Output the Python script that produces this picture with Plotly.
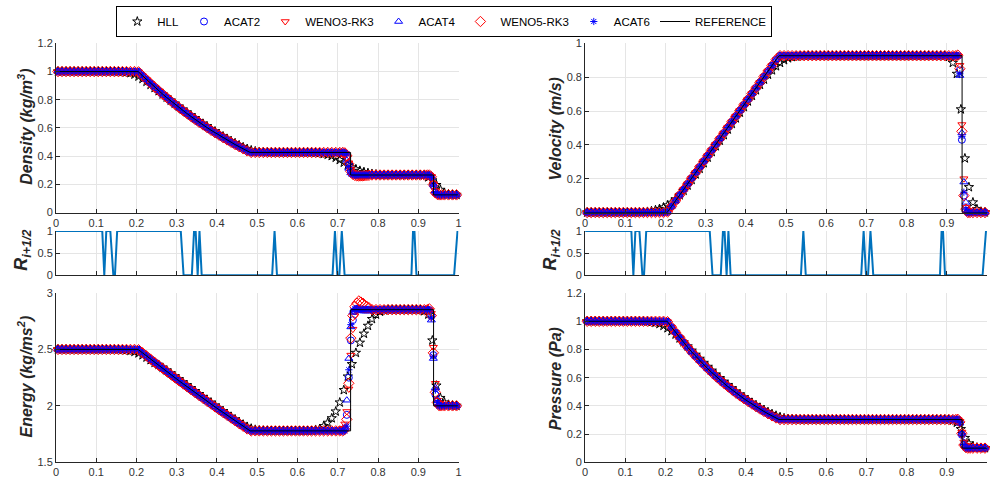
import plotly.graph_objects as go

# ---------------- data ----------------
X = [0.005, 0.015, 0.025, 0.035, 0.045, 0.055, 0.065, 0.075, 0.085, 0.095,
     0.105, 0.115, 0.125, 0.135, 0.145, 0.155, 0.165, 0.175, 0.185, 0.195,
     0.205, 0.215, 0.225, 0.235, 0.245, 0.255, 0.265, 0.275, 0.285, 0.295,
     0.305, 0.315, 0.325, 0.335, 0.345, 0.355, 0.365, 0.375, 0.385, 0.395,
     0.405, 0.415, 0.425, 0.435, 0.445, 0.455, 0.465, 0.475, 0.485, 0.495,
     0.505, 0.515, 0.525, 0.535, 0.545, 0.555, 0.565, 0.575, 0.585, 0.595,
     0.605, 0.615, 0.625, 0.635, 0.645, 0.655, 0.665, 0.675, 0.685, 0.695,
     0.705, 0.715, 0.725, 0.735, 0.745, 0.755, 0.765, 0.775, 0.785, 0.795,
     0.805, 0.815, 0.825, 0.835, 0.845, 0.855, 0.865, 0.875, 0.885, 0.895,
     0.905, 0.915, 0.925, 0.935, 0.945, 0.955, 0.965, 0.975, 0.985, 0.995]

# common profile of the high-order schemes (away from the discontinuities)
RHO_BASE = [1.0, 1.0, 1.0, 1.0, 1.0, 1.0, 1.0, 1.0, 1.0, 1.0,
            1.0, 1.0, 1.0, 1.0, 1.0, 1.0, 1.0, 1.0, 1.0, 1.0,
            0.998, 0.970, 0.943, 0.916, 0.890, 0.865, 0.840, 0.816, 0.792, 0.769,
            0.746, 0.724, 0.703, 0.682, 0.661, 0.641, 0.622, 0.603, 0.584, 0.566,
            0.549, 0.531, 0.515, 0.498, 0.482, 0.467, 0.452, 0.437, 0.426, 0.426,
            0.426, 0.426, 0.426, 0.426, 0.426, 0.426, 0.426, 0.426, 0.426, 0.426,
            0.426, 0.426, 0.426, 0.426, 0.426, 0.426, 0.426, 0.426, 0.426, 0.426,
            0.426, 0.426, 0.426, 0.266, 0.266, 0.266, 0.266, 0.266, 0.266, 0.266,
            0.266, 0.266, 0.266, 0.266, 0.266, 0.266, 0.266, 0.266, 0.266, 0.266,
            0.266, 0.266, 0.266, 0.266, 0.125, 0.125, 0.125, 0.125, 0.125, 0.125]
U_BASE = [0.0, 0.0, 0.0, 0.0, 0.0, 0.0, 0.0, 0.0, 0.0, 0.0,
          0.0, 0.0, 0.0, 0.0, 0.0, 0.0, 0.0, 0.0, 0.0, 0.0,
          0.003, 0.036, 0.069, 0.103, 0.136, 0.169, 0.203, 0.236, 0.269, 0.303,
          0.336, 0.369, 0.403, 0.436, 0.469, 0.503, 0.536, 0.569, 0.603, 0.636,
          0.669, 0.703, 0.736, 0.769, 0.803, 0.836, 0.869, 0.903, 0.927, 0.927,
          0.927, 0.927, 0.927, 0.927, 0.927, 0.927, 0.927, 0.927, 0.927, 0.927,
          0.927, 0.927, 0.927, 0.927, 0.927, 0.927, 0.927, 0.927, 0.927, 0.927,
          0.927, 0.927, 0.927, 0.927, 0.927, 0.927, 0.927, 0.927, 0.927, 0.927,
          0.927, 0.927, 0.927, 0.927, 0.927, 0.927, 0.927, 0.927, 0.927, 0.927,
          0.927, 0.927, 0.927, 0.927, 0.0, 0.0, 0.0, 0.0, 0.0, 0.0]
P_BASE = [1.0, 1.0, 1.0, 1.0, 1.0, 1.0, 1.0, 1.0, 1.0, 1.0,
          1.0, 1.0, 1.0, 1.0, 1.0, 1.0, 1.0, 1.0, 1.0, 1.0,
          0.997, 0.958, 0.921, 0.885, 0.850, 0.816, 0.783, 0.752, 0.722, 0.692,
          0.664, 0.637, 0.610, 0.585, 0.561, 0.537, 0.514, 0.492, 0.471, 0.451,
          0.432, 0.413, 0.395, 0.377, 0.360, 0.344, 0.329, 0.314, 0.303, 0.303,
          0.303, 0.303, 0.303, 0.303, 0.303, 0.303, 0.303, 0.303, 0.303, 0.303,
          0.303, 0.303, 0.303, 0.303, 0.303, 0.303, 0.303, 0.303, 0.303, 0.303,
          0.303, 0.303, 0.303, 0.303, 0.303, 0.303, 0.303, 0.303, 0.303, 0.303,
          0.303, 0.303, 0.303, 0.303, 0.303, 0.303, 0.303, 0.303, 0.303, 0.303,
          0.303, 0.303, 0.303, 0.303, 0.1, 0.1, 0.1, 0.1, 0.1, 0.1]
E_BASE = [2.5, 2.5, 2.5, 2.5, 2.5, 2.5, 2.5, 2.5, 2.5, 2.5,
          2.5, 2.5, 2.5, 2.5, 2.5, 2.5, 2.5, 2.5, 2.5, 2.5,
          2.498, 2.470, 2.442, 2.414, 2.386, 2.359, 2.332, 2.305, 2.278, 2.251,
          2.224, 2.198, 2.171, 2.145, 2.119, 2.093, 2.068, 2.042, 2.017, 1.991,
          1.966, 1.941, 1.917, 1.892, 1.868, 1.843, 1.819, 1.795, 1.778, 1.778,
          1.778, 1.778, 1.778, 1.778, 1.778, 1.778, 1.778, 1.778, 1.778, 1.778,
          1.778, 1.778, 1.778, 1.778, 1.778, 1.778, 1.778, 1.778, 1.778, 1.778,
          1.778, 1.778, 1.778, 2.853, 2.853, 2.853, 2.853, 2.853, 2.853, 2.853,
          2.853, 2.853, 2.853, 2.853, 2.853, 2.853, 2.853, 2.853, 2.853, 2.853,
          2.853, 2.853, 2.853, 2.853, 2.0, 2.0, 2.0, 2.0, 2.0, 2.0]

# HLL (more diffusive) full profiles
HLL_RHO = [1.0, 1.0, 1.0, 1.0, 1.0, 1.0, 1.0, 1.0, 1.0, 1.0,
           1.0, 1.0, 1.0, 1.0, 1.0, 0.999, 0.998, 0.995, 0.989, 0.979,
           0.965, 0.948, 0.928, 0.906, 0.884, 0.861, 0.838, 0.816, 0.794, 0.772,
           0.751, 0.730, 0.709, 0.689, 0.669, 0.649, 0.630, 0.611, 0.593, 0.575,
           0.557, 0.540, 0.523, 0.507, 0.492, 0.477, 0.463, 0.451, 0.441, 0.434,
           0.430, 0.428, 0.427, 0.426, 0.426, 0.426, 0.426, 0.426, 0.426, 0.426,
           0.426, 0.426, 0.426, 0.426, 0.424, 0.422, 0.416, 0.410, 0.401, 0.389,
           0.373, 0.354, 0.335, 0.320, 0.307, 0.296, 0.287, 0.280, 0.274, 0.270,
           0.267, 0.266, 0.266, 0.266, 0.266, 0.266, 0.266, 0.266, 0.266, 0.266,
           0.266, 0.264, 0.250, 0.228, 0.195, 0.161, 0.139, 0.129, 0.126, 0.125]
HLL_U = [0.0, 0.0, 0.0, 0.0, 0.0, 0.0, 0.0, 0.0, 0.0, 0.0,
         0.0, 0.0, 0.0, 0.001, 0.002, 0.004, 0.008, 0.014, 0.021, 0.030,
         0.042, 0.058, 0.078, 0.102, 0.129, 0.160, 0.193, 0.226, 0.259, 0.292,
         0.325, 0.358, 0.392, 0.425, 0.458, 0.491, 0.524, 0.557, 0.591, 0.624,
         0.657, 0.690, 0.723, 0.755, 0.786, 0.815, 0.841, 0.865, 0.885, 0.901,
         0.912, 0.919, 0.923, 0.925, 0.926, 0.927, 0.927, 0.927, 0.927, 0.927,
         0.927, 0.927, 0.927, 0.927, 0.927, 0.927, 0.927, 0.927, 0.927, 0.927,
         0.927, 0.927, 0.927, 0.927, 0.927, 0.927, 0.927, 0.927, 0.927, 0.927,
         0.927, 0.927, 0.927, 0.927, 0.927, 0.927, 0.927, 0.927, 0.927, 0.927,
         0.920, 0.885, 0.820, 0.610, 0.320, 0.150, 0.060, 0.020, 0.005, 0.001]
HLL_P = [1.0, 1.0, 1.0, 1.0, 1.0, 1.0, 1.0, 1.0, 1.0, 1.0,
         1.0, 1.0, 1.0, 1.0, 0.999, 0.998, 0.995, 0.990, 0.981, 0.968,
         0.951, 0.930, 0.906, 0.879, 0.851, 0.822, 0.792, 0.763, 0.734, 0.705,
         0.677, 0.650, 0.623, 0.597, 0.572, 0.548, 0.525, 0.502, 0.481, 0.460,
         0.441, 0.422, 0.404, 0.387, 0.371, 0.356, 0.342, 0.330, 0.320, 0.312,
         0.307, 0.305, 0.304, 0.303, 0.303, 0.303, 0.303, 0.303, 0.303, 0.303,
         0.303, 0.303, 0.303, 0.303, 0.303, 0.303, 0.303, 0.303, 0.303, 0.303,
         0.303, 0.303, 0.303, 0.303, 0.303, 0.303, 0.303, 0.303, 0.303, 0.303,
         0.303, 0.303, 0.303, 0.303, 0.303, 0.303, 0.303, 0.303, 0.303, 0.303,
         0.302, 0.296, 0.281, 0.235, 0.172, 0.133, 0.113, 0.104, 0.101, 0.100]
HLL_E = [2.5, 2.5, 2.5, 2.5, 2.5, 2.5, 2.5, 2.5, 2.5, 2.5,
         2.5, 2.5, 2.5, 2.5, 2.500, 2.499, 2.497, 2.494, 2.488, 2.479,
         2.466, 2.449, 2.429, 2.406, 2.382, 2.362, 2.338, 2.313, 2.288, 2.262,
         2.236, 2.209, 2.183, 2.157, 2.131, 2.105, 2.079, 2.054, 2.028, 2.003,
         1.977, 1.952, 1.928, 1.903, 1.879, 1.856, 1.834, 1.814, 1.798, 1.788,
         1.782, 1.780, 1.779, 1.778, 1.778, 1.778, 1.778, 1.778, 1.778, 1.778,
         1.778, 1.778, 1.778, 1.778, 1.787, 1.795, 1.820, 1.850, 1.890, 1.950,
         2.030, 2.140, 2.260, 2.370, 2.470, 2.560, 2.640, 2.710, 2.770, 2.810,
         2.835, 2.847, 2.853, 2.853, 2.853, 2.853, 2.853, 2.853, 2.853, 2.853,
         2.852, 2.840, 2.810, 2.580, 2.180, 2.070, 2.030, 2.010, 2.003, 2.000]

# finer sampled windows around the contact and the shock (high-order schemes)
CONTACT_X = [0.7125, 0.7175, 0.7225, 0.7275, 0.7325, 0.7375, 0.7425,
             0.7475, 0.7525, 0.7575, 0.7625, 0.7675, 0.7725, 0.7775]
SHOCK_X = [0.9225, 0.9275, 0.9325, 0.9375, 0.9425, 0.9475, 0.9525, 0.9575]

RHO_CONTACT = {
    "ACAT2":     [0.426, 0.421, 0.395, 0.337, 0.294, 0.275, 0.267, 0.265, 0.265, 0.266, 0.266, 0.266, 0.266, 0.266],
    "WENO3-RK3": [0.421, 0.412, 0.389, 0.353, 0.309, 0.283, 0.271, 0.266, 0.265, 0.265, 0.266, 0.266, 0.266, 0.266],
    "ACAT4":     [0.426, 0.421, 0.370, 0.313, 0.281, 0.268, 0.265, 0.265, 0.266, 0.266, 0.266, 0.266, 0.266, 0.266],
    "WENO5-RK3": [0.426, 0.423, 0.403, 0.345, 0.292, 0.271, 0.263, 0.260, 0.259, 0.260, 0.260, 0.262, 0.263, 0.264],
    "ACAT6":     [0.426, 0.426, 0.416, 0.327, 0.279, 0.267, 0.265, 0.266, 0.266, 0.266, 0.266, 0.266, 0.266, 0.266],
}
E_CONTACT = {
    "ACAT2":     [1.778, 1.80, 1.92, 2.25, 2.58, 2.76, 2.84, 2.86, 2.86, 2.855, 2.853, 2.853, 2.853, 2.853],
    "WENO3-RK3": [1.80, 1.84, 1.95, 2.15, 2.45, 2.68, 2.80, 2.85, 2.86, 2.86, 2.855, 2.853, 2.853, 2.853],
    "ACAT4":     [1.778, 1.80, 2.05, 2.42, 2.70, 2.83, 2.86, 2.86, 2.855, 2.853, 2.853, 2.853, 2.853, 2.853],
    "WENO5-RK3": [1.778, 1.79, 1.88, 2.20, 2.60, 2.80, 2.88, 2.91, 2.93, 2.92, 2.91, 2.89, 2.88, 2.87],
    "ACAT6":     [1.778, 1.778, 1.82, 2.32, 2.72, 2.84, 2.86, 2.855, 2.853, 2.853, 2.853, 2.853, 2.853, 2.853],
}
RHO_SHOCK = {
    "ACAT2":     [0.266, 0.266, 0.253, 0.190, 0.140, 0.127, 0.125, 0.125],
    "WENO3-RK3": [0.266, 0.266, 0.257, 0.204, 0.155, 0.130, 0.125, 0.125],
    "ACAT4":     [0.266, 0.266, 0.248, 0.196, 0.152, 0.134, 0.127, 0.125],
    "WENO5-RK3": [0.266, 0.266, 0.254, 0.198, 0.140, 0.128, 0.125, 0.125],
    "ACAT6":     [0.266, 0.266, 0.250, 0.193, 0.143, 0.128, 0.125, 0.125],
}
U_SHOCK = {
    "ACAT2":     [0.927, 0.926, 0.84, 0.43, 0.10, 0.01, 0.0, 0.0],
    "WENO3-RK3": [0.927, 0.925, 0.87, 0.52, 0.20, 0.03, 0.0, 0.0],
    "ACAT4":     [0.927, 0.926, 0.81, 0.47, 0.18, 0.06, 0.01, 0.0],
    "WENO5-RK3": [0.927, 0.930, 0.85, 0.48, 0.10, 0.02, 0.0, 0.0],
    "ACAT6":     [0.927, 0.927, 0.82, 0.45, 0.12, 0.02, 0.0, 0.0],
}
P_SHOCK = {
    "ACAT2":     [0.303, 0.303, 0.284, 0.194, 0.122, 0.102, 0.100, 0.100],
    "WENO3-RK3": [0.303, 0.303, 0.291, 0.214, 0.144, 0.107, 0.100, 0.100],
    "ACAT4":     [0.303, 0.303, 0.277, 0.203, 0.139, 0.113, 0.102, 0.100],
    "WENO5-RK3": [0.303, 0.304, 0.286, 0.205, 0.122, 0.104, 0.100, 0.100],
    "ACAT6":     [0.303, 0.303, 0.280, 0.199, 0.126, 0.104, 0.100, 0.100],
}
E_SHOCK = {
    "ACAT2":     [2.853, 2.85, 2.80, 2.45, 2.10, 2.02, 2.0, 2.0],
    "WENO3-RK3": [2.853, 2.85, 2.82, 2.52, 2.20, 2.05, 2.0, 2.0],
    "ACAT4":     [2.853, 2.85, 2.76, 2.42, 2.16, 2.06, 2.01, 2.0],
    "WENO5-RK3": [2.853, 2.86, 2.80, 2.47, 2.12, 2.03, 2.0, 2.0],
    "ACAT6":     [2.853, 2.85, 2.78, 2.44, 2.14, 2.03, 2.0, 2.0],
}

# reference (exact) solution
REF_X = [0.0, 0.2042, 0.215, 0.225, 0.235, 0.245, 0.255, 0.265, 0.275, 0.285,
         0.295, 0.305, 0.315, 0.325, 0.335, 0.345, 0.355, 0.365, 0.375, 0.385,
         0.395, 0.405, 0.415, 0.425, 0.435, 0.445, 0.455, 0.465, 0.475, 0.4824,
         0.7319, 0.7319, 0.938, 0.938, 1.0]
REF_RHO = [1.0, 1.0, 0.970, 0.943, 0.916, 0.890, 0.865, 0.840, 0.816, 0.792,
           0.769, 0.746, 0.724, 0.703, 0.682, 0.661, 0.641, 0.622, 0.603, 0.584,
           0.566, 0.549, 0.531, 0.515, 0.498, 0.482, 0.467, 0.452, 0.437, 0.426,
           0.426, 0.266, 0.266, 0.125, 0.125]
REF_U = [0.0, 0.0, 0.036, 0.069, 0.103, 0.136, 0.169, 0.203, 0.236, 0.269,
         0.303, 0.336, 0.369, 0.403, 0.436, 0.469, 0.503, 0.536, 0.569, 0.603,
         0.636, 0.669, 0.703, 0.736, 0.769, 0.803, 0.836, 0.869, 0.903, 0.927,
         0.927, 0.927, 0.927, 0.0, 0.0]
REF_P = [1.0, 1.0, 0.958, 0.921, 0.885, 0.850, 0.816, 0.783, 0.752, 0.722,
         0.692, 0.664, 0.637, 0.610, 0.585, 0.561, 0.537, 0.514, 0.492, 0.471,
         0.451, 0.432, 0.413, 0.395, 0.377, 0.360, 0.344, 0.329, 0.314, 0.303,
         0.303, 0.303, 0.303, 0.1, 0.1]
REF_E = [2.5, 2.5, 2.470, 2.442, 2.414, 2.386, 2.359, 2.332, 2.305, 2.278,
         2.251, 2.224, 2.198, 2.171, 2.145, 2.119, 2.093, 2.068, 2.042, 2.017,
         1.991, 1.966, 1.941, 1.917, 1.892, 1.868, 1.843, 1.819, 1.795, 1.778,
         1.778, 2.853, 2.853, 2.0, 2.0]

# troubled-cell indicator R_{i+1/2}
R_X = [0.0, 0.115, 0.12, 0.125, 0.135, 0.1425, 0.1465, 0.152, 0.31, 0.317,
       0.3375, 0.343, 0.347, 0.352, 0.3565, 0.362, 0.537, 0.543, 0.549, 0.687,
       0.693, 0.699, 0.704, 0.710, 0.717, 0.883, 0.887, 0.8905, 0.8955, 0.989,
       0.9975]
R_Y = [1, 1, 0, 1, 1, 0, 0, 1, 1, 0,
       0, 1, 1, 0, 1, 0, 0, 1, 0, 0,
       1, 0, 0, 1, 0, 0, 1, 1, 0, 0,
       1]

SCHEMES = ["ACAT2", "WENO3-RK3", "ACAT4", "WENO5-RK3", "ACAT6"]
XTICKS = [0, 0.1, 0.2, 0.3, 0.4, 0.5, 0.6, 0.7, 0.8, 0.9, 1]
XTICK_TEXT = ["0", "0.1", "0.2", "0.3", "0.4", "0.5", "0.6", "0.7", "0.8", "0.9", "1"]

# ---------------- styling ----------------
STYLE = {
    "HLL": dict(symbol="star-open", color="black", size=7),
    "ACAT2": dict(symbol="circle-open", color="#0000ff", size=7),
    "WENO3-RK3": dict(symbol="triangle-down-open", color="#ff0000", size=7),
    "ACAT4": dict(symbol="triangle-up-open", color="#0000ff", size=7),
    "WENO5-RK3": dict(symbol="diamond-open", color="#ff0000", size=8),
    "ACAT6": dict(symbol="asterisk-open", color="#0000ff", size=6),
}


def assemble(base, windows):
    xs, ys = [], []
    for x, y in zip(X, base):
        if any(wx[0] - 0.004 <= x <= wx[-1] + 0.004 for wx, _ in windows):
            continue
        xs.append(x)
        ys.append(y)
    for wx, wy in windows:
        xs += list(wx)
        ys += list(wy)
    return xs, ys


fig = go.Figure()

panels = [
    (RHO_BASE, HLL_RHO, [(CONTACT_X, RHO_CONTACT), (SHOCK_X, RHO_SHOCK)], REF_RHO, "", True),
    (E_BASE, HLL_E, [(CONTACT_X, E_CONTACT), (SHOCK_X, E_SHOCK)], REF_E, "3", False),
    (U_BASE, HLL_U, [(SHOCK_X, U_SHOCK)], REF_U, "4", False),
    (P_BASE, HLL_P, [(SHOCK_X, P_SHOCK)], REF_P, "6", False),
]

for base, hll, wins, ref, ax, leg in panels:
    xa, ya = "x" + ax, "y" + ax
    st = STYLE["HLL"]
    fig.add_trace(go.Scatter(
        x=X, y=hll, mode="markers", name="HLL", showlegend=leg,
        xaxis=xa, yaxis=ya, cliponaxis=False,
        marker=dict(symbol=st["symbol"], size=st["size"], color=st["color"],
                    line=dict(color=st["color"], width=1))))
    for s in SCHEMES:
        xs, ys = assemble(base, [(wx, wd[s]) for wx, wd in wins])
        st = STYLE[s]
        fig.add_trace(go.Scatter(
            x=xs, y=ys, mode="markers", name=s, showlegend=leg,
            xaxis=xa, yaxis=ya, cliponaxis=False,
            marker=dict(symbol=st["symbol"], size=st["size"], color=st["color"],
                        line=dict(color=st["color"], width=1))))
    fig.add_trace(go.Scatter(
        x=REF_X, y=ref, mode="lines", name="REFERENCE", showlegend=leg,
        xaxis=xa, yaxis=ya, cliponaxis=False,
        line=dict(color="black", width=1)))

for ax in ["2", "5"]:
    fig.add_trace(go.Scatter(
        x=R_X, y=R_Y, mode="lines", showlegend=False,
        xaxis="x" + ax, yaxis="y" + ax, cliponaxis=False,
        line=dict(color="#0072BD", width=2)))

# ---------------- layout ----------------
W, H = 990, 489
LX = [53.3 / W, 458.3 / W]
RX = [585.7 / W, 1.0]
TOPY = [1 - 211.7 / H, 1 - 38.3 / H]
MIDY = [1 - 276.0 / H, 1 - 230.7 / H]
BOTY = [1 - 467.7 / H, 1 - 294.3 / H]

AX_COL = "#262626"
GRID = "#e5e5e5"
TICKFONT = dict(family="Liberation Sans, Arial, sans-serif", size=11, color="#333333")


def xaxis(domain, anchor, labels=True):
    return dict(domain=domain, anchor=anchor, range=[0, 1],
                tickvals=XTICKS, ticktext=XTICK_TEXT, showticklabels=labels,
                showline=True, linecolor=AX_COL, linewidth=1, mirror=False,
                showgrid=True, gridcolor=GRID, gridwidth=1, zeroline=False,
                ticks="inside", ticklen=4, tickcolor=AX_COL, tickfont=TICKFONT)


def yaxis(domain, anchor, rng, dtick):
    return dict(domain=domain, anchor=anchor, range=rng, dtick=dtick, tick0=0,
                showline=True, linecolor=AX_COL, linewidth=1, mirror=False,
                showgrid=True, gridcolor=GRID, gridwidth=1, zeroline=False,
                ticks="inside", ticklen=4, tickcolor=AX_COL, tickfont=TICKFONT)


fig.update_layout(
    width=W, height=H,
    margin=dict(l=0, r=0, t=0, b=0),
    paper_bgcolor="white", plot_bgcolor="white",
    font=dict(family="Liberation Sans, Arial, sans-serif", size=12, color=AX_COL),
    xaxis=xaxis(LX, "y"), yaxis=yaxis(TOPY, "x", [0, 1.2], 0.2),
    xaxis2=xaxis(LX, "y2", False), yaxis2=yaxis(MIDY, "x2", [0, 1], 0.5),
    xaxis3=xaxis(LX, "y3"), yaxis3=yaxis(BOTY, "x3", [1.5, 3], 0.5),
    xaxis4=xaxis(RX, "y4"), yaxis4=yaxis(TOPY, "x4", [0, 1], 0.2),
    xaxis5=xaxis(RX, "y5", False), yaxis5=yaxis(MIDY, "x5", [0, 1], 0.5),
    xaxis6=xaxis(RX, "y6"), yaxis6=yaxis(BOTY, "x6", [0, 1.2], 0.2),
    legend=dict(orientation="h", x=114 / W, y=1.0, xanchor="left", yanchor="top",
                bordercolor="black", borderwidth=1, bgcolor="white",
                font=dict(family="Liberation Sans, Arial, sans-serif", size=11.5, color="black"),
                traceorder="normal", itemwidth=30),
)

LABEL_FONT = dict(family="Liberation Sans, Arial, sans-serif", size=16, color=AX_COL)
R_FONT = dict(family="Liberation Sans, Arial, sans-serif", size=18, color=AX_COL)
labels = [
    ("<b><i>Density (kg/m<sup>3</sup>)</i></b>", 22, 124, LABEL_FONT),
    ("<b><i>R<sub>i+1/2</sub></i></b>", 20, 250, R_FONT),
    ("<b><i>Energy (kg/ms<sup>2</sup>)</i></b>", 22, 380, LABEL_FONT),
    ("<b><i>Velocity (m/s)</i></b>", 556, 126, LABEL_FONT),
    ("<b><i>R<sub>i+1/2</sub></i></b>", 552, 250, R_FONT),
    ("<b><i>Pressure (Pa)</i></b>", 556, 382, LABEL_FONT),
]
for txt, px, py, fnt in labels:
    fig.add_annotation(text=txt, x=px / W, y=1 - py / H, xref="paper", yref="paper",
                       showarrow=False, textangle=-90, font=fnt,
                       xanchor="center", yanchor="middle")

fig.write_html("out.html")
